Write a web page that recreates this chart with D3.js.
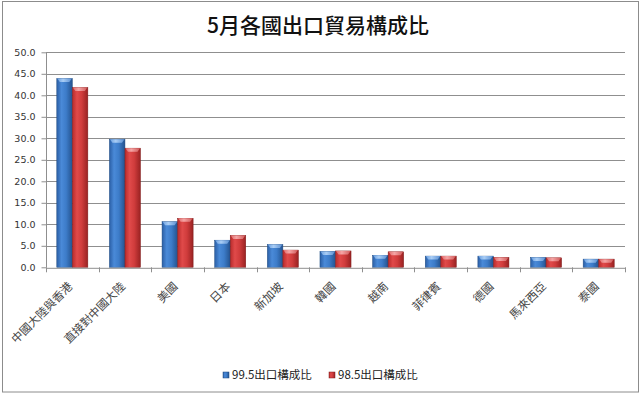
<!DOCTYPE html>
<html>
<head>
<meta charset="utf-8">
<script src="https://cdn.jsdelivr.net/npm/d3@7"></script>
<style>
  body { margin: 0; background: #fff; }
  svg text { font-family: "Noto Sans CJK TC", "DejaVu Sans", sans-serif; }
</style>
</head>
<body>
<div id="chart"></div>
<script>
var categories = ["中國大陸與香港", "直接對中國大陸", "美國", "日本", "新加坡", "韓國", "越南", "菲律賓", "德國", "馬來西亞", "泰國"];
var series = ["99.5出口構成比", "98.5出口構成比"];
var values995 = [43.9, 29.8, 10.6, 6.3, 5.3, 3.7, 2.8, 2.6, 2.6, 2.3, 1.9];
var values985 = [41.8, 27.7, 11.4, 7.4, 4.0, 3.8, 3.6, 2.6, 2.3, 2.2, 1.9];
var yTicks = [0, 5, 10, 15, 20, 25, 30, 35, 40, 45, 50];

var width = 640,
    height = 394,
    plotLeft = 46, plotRight = 625,
    plotTop = 52.3, plotBottom = 267.3;

var svg = d3.select("#chart")
            .append("svg")
              .attr("width", width)
              .attr("height", height);

// gradients for the bars
var defs = svg.append("defs");
function grad(id, stops) {
    var g = defs.append("linearGradient").attr("id", id)
        .attr("x1", "0%").attr("x2", "100%").attr("y1", "0%").attr("y2", "0%");
    stops.forEach(function(s){ g.append("stop").attr("offset", s[0]).attr("stop-color", s[1]); });
}
grad("gBlue", [["0%", "#2b5fa6"], ["30%", "#4a8ad8"], ["60%", "#3d7cc9"], ["100%", "#24538f"]]);
grad("gRed", [["0%", "#b82b2b"], ["30%", "#e04a4a"], ["60%", "#d03c3c"], ["100%", "#992222"]]);
grad("cBlue", [["0%", "#6a9fe0"], ["40%", "#a9cdf5"], ["100%", "#5b8fd2"]]);
grad("cRed", [["0%", "#e06a6a"], ["40%", "#f5a5a5"], ["100%", "#d05a5a"]]);

// outer border
svg.append("rect")
    .attr("x", 2.5).attr("y", 1.5)
    .attr("width", 636).attr("height", 390.5)
    .attr("fill", "none")
    .attr("stroke", "#8c8c8c");

svg.append("text")
    .attr("x", 318).attr("y", 33)
    .attr("text-anchor", "middle")
    .style("font-size", "21px")
    .style("font-weight", "500")
    .attr("fill", "#111")
    .text("5月各國出口貿易構成比");

var x0 = d3.scaleBand()
           .domain(categories)
           .range([plotLeft, plotRight])
           .padding(0);

var x1 = d3.scaleBand()
           .domain(series)
           .range([x0.bandwidth() * 0.205, x0.bandwidth() * 0.795]);

var y = d3.scaleLinear()
          .domain([0, 50])
          .range([plotBottom, plotTop]);

// gridlines
svg.append("g")
    .selectAll("line")
    .data(yTicks.slice(1))
    .enter()
    .append("line")
      .attr("x1", plotLeft).attr("x2", plotRight)
      .attr("y1", function(d){ return Math.round(y(d)) + 0.5; })
      .attr("y2", function(d){ return Math.round(y(d)) + 0.5; })
      .attr("stroke", "#8f8f8f");

var yAxis = d3.axisLeft(y)
              .tickValues(yTicks)
              .tickSize(5)
              .tickPadding(6)
              .tickFormat(d3.format(".1f"));

var gy = svg.append("g")
    .attr("transform", "translate(" + (plotLeft + 0.5) + ",0)")
    .call(yAxis);
gy.selectAll("text").style("font-family", "DejaVu Sans").style("font-size", "9.5px").attr("fill", "#333");
gy.selectAll("line, path").attr("stroke", "#8f8f8f");
gy.select(".domain").attr("d", "M0," + plotTop + "V" + plotBottom);

// bars
var groups = svg.append("g")
    .selectAll("g")
    .data(categories)
    .enter()
    .append("g")
      .attr("transform", function(d){ return "translate(" + x0(d) + ",0)"; });

var rows = [values995, values985];
var fills = ["url(#gBlue)", "url(#gRed)"];
var caps = ["url(#cBlue)", "url(#cRed)"];
var edges = ["#1f4a80", "#7f1c1c"];

groups.each(function(c, i){
    var g = d3.select(this);
    series.forEach(function(s, k){
        var v = rows[k][i];
        g.append("rect")
            .attr("x", x1(s))
            .attr("y", y(v))
            .attr("width", x1.bandwidth())
            .attr("height", y(0) - y(v))
            .attr("fill", fills[k])
            .attr("stroke", edges[k])
            .attr("stroke-width", 0.5);
        g.append("path")
            .attr("d", "M" + (x1(s) + 0.5) + "," + y(v) +
                       "h" + (x1.bandwidth() - 1) +
                       "l-2.5,3.5h" + (-(x1.bandwidth() - 6)) + "z")
            .attr("fill", caps[k]);
    });
});

// x axis with ticks between categories
var xAxis = d3.axisBottom(x0).tickSize(0).tickFormat("");
var gx = svg.append("g")
    .attr("transform", "translate(0," + (plotBottom + 0.5) + ")")
    .call(xAxis);
gx.select(".domain").attr("stroke", "#8f8f8f");

svg.append("g")
    .selectAll("line")
    .data(categories.concat(["end"]))
    .enter()
    .append("line")
      .attr("x1", function(d, i){ return Math.round(plotLeft + i * x0.step()) + 0.5; })
      .attr("x2", function(d, i){ return Math.round(plotLeft + i * x0.step()) + 0.5; })
      .attr("y1", plotBottom).attr("y2", plotBottom + 5)
      .attr("stroke", "#8f8f8f");

svg.append("g")
    .selectAll("text")
    .data(categories)
    .enter()
    .append("text")
      .attr("transform", function(d){
          return "translate(" + (x0(d) + x0.bandwidth() / 2 - 2) + "," + (plotBottom + 17) + ") rotate(-45)";
      })
      .attr("text-anchor", "end")
      .attr("dy", "0.35em")
      .style("font-size", "11.5px")
      .attr("fill", "#444")
      .text(function(d){ return d; });

// legend
var legend = svg.append("g");
var legendX = [223, 329];
series.forEach(function(s, k){
    legend.append("rect")
        .attr("x", legendX[k]).attr("y", 372)
        .attr("width", 6).attr("height", 6)
        .attr("fill", fills[k])
        .attr("stroke", edges[k])
        .attr("stroke-width", 0.5);
    legend.append("text")
        .attr("x", legendX[k] + 9).attr("y", 375)
        .attr("dy", "0.35em")
        .style("font-size", "11.5px")
        .attr("fill", "#222")
        .text(s);
});
</script>
</body>
</html>
